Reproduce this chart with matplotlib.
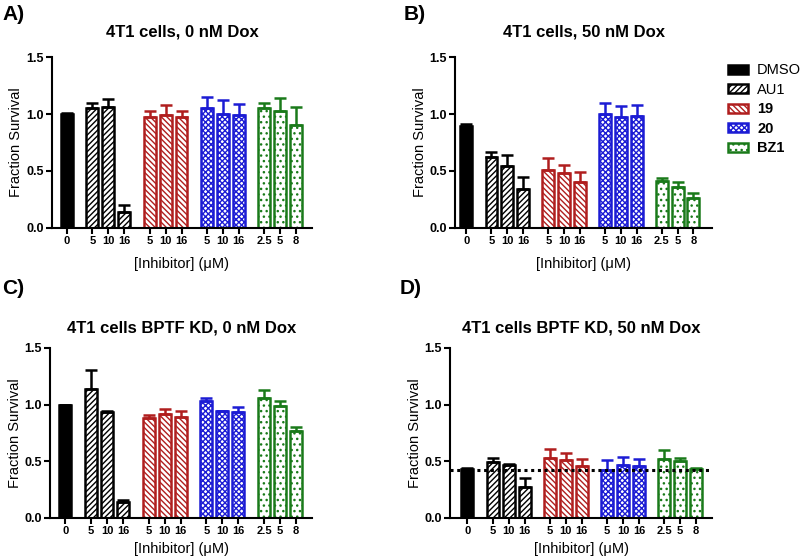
import numpy as np
import matplotlib
matplotlib.use("Agg")
import matplotlib.pyplot as plt
from matplotlib.patches import Patch

# groups and x tick labels
groups = ["DMSO", "AU1", "19", "20", "BZ1"]
tick_labels = ["0", "5", "10", "16", "5", "10", "16", "5", "10", "16", "2.5", "5", "8"]
group_of_bar = [0, 1, 1, 1, 2, 2, 2, 3, 3, 3, 4, 4, 4]

# values (mean, upper error)
a_vals = [1.00, 1.05, 1.06, 0.14, 0.97, 0.99, 0.97, 1.05, 1.00, 0.99, 1.05, 1.03, 0.90]
a_errs = [0.01, 0.05, 0.07, 0.06, 0.06, 0.09, 0.06, 0.10, 0.12, 0.10, 0.05, 0.11, 0.16]
b_vals = [0.895, 0.62, 0.54, 0.34, 0.51, 0.485, 0.40, 1.00, 0.97, 0.98, 0.41, 0.36, 0.26]
b_errs = [0.02, 0.05, 0.10, 0.11, 0.10, 0.07, 0.09, 0.10, 0.10, 0.10, 0.03, 0.04, 0.05]
c_vals = [1.00, 1.14, 0.93, 0.14, 0.88, 0.92, 0.89, 1.03, 0.94, 0.93, 1.06, 0.99, 0.77]
c_errs = [0.00, 0.16, 0.015, 0.015, 0.03, 0.04, 0.05, 0.03, 0.005, 0.05, 0.07, 0.04, 0.03]
d_vals = [0.434, 0.49, 0.466, 0.27, 0.53, 0.51, 0.46, 0.42, 0.47, 0.46, 0.52, 0.50, 0.43]
d_errs = [0.005, 0.04, 0.012, 0.08, 0.08, 0.06, 0.06, 0.09, 0.07, 0.06, 0.08, 0.03, 0.01]
d_baseline = 0.425

titles = ["4T1 cells, 0 nM Dox", "4T1 cells, 50 nM Dox",
          "4T1 cells BPTF KD, 0 nM Dox", "4T1 cells BPTF KD, 50 nM Dox"]
letters = ["A)", "B)", "C)", "D)"]

# styling per group
colors = ["black", "black", "#b01e1e", "#1c1cd4", "#1a7a1a"]
fills = ["black", "white", "white", "white", "white"]
hatches = [None, "//////", "\\\\\\\\\\\\", "xxxxxx", "..."]

# bar positions: step 1 within a group, wider gap between groups
gap = 1.6
x = []
pos = 0.0
prev = 0
for i, g in enumerate(group_of_bar):
    if i > 0:
        pos += gap if g != prev else 1.0
    x.append(pos)
    prev = g
x = np.array(x)

plt.rcParams["hatch.linewidth"] = 1.0
plt.rcParams["font.family"] = "Liberation Sans"

fig = plt.figure(figsize=(8, 5.6), dpi=100)
rects = [
    [0.065, 0.593, 0.325, 0.305],
    [0.569, 0.593, 0.321, 0.305],
    [0.063, 0.075, 0.327, 0.304],
    [0.563, 0.075, 0.327, 0.304],
]
xlims = [(-0.94, 15.4), (-0.7, 15.58), (-0.94, 15.4), (-1.07, 15.4)]
title_pads = [15, 15, 11, 11]
xlabel_pads = [8, 8, 4, 4]
data = [(a_vals, a_errs), (b_vals, b_errs), (c_vals, c_errs), (d_vals, d_errs)]

for k, (vals, errs) in enumerate(data):
    ax = fig.add_axes(rects[k])
    for i in range(len(x)):
        g = group_of_bar[i]
        ax.bar(x[i], vals[i], width=0.75, color=fills[g], edgecolor=colors[g],
               hatch=hatches[g], linewidth=1.8, zorder=2)
        ax.errorbar(x[i], vals[i], yerr=[[0], [errs[i]]], fmt="none",
                    ecolor=colors[g], elinewidth=1.8, capsize=4, capthick=1.8, zorder=3)
    if k == 3:
        ax.axhline(d_baseline, color="black", linestyle=(0, (1, 1.2)), linewidth=2.2, zorder=4)
    ax.set_xlim(*xlims[k])
    ax.set_ylim(0, 1.5)
    ax.set_yticks([0.0, 0.5, 1.0, 1.5])
    ax.set_yticklabels(["0.0", "0.5", "1.0", "1.5"], fontweight="bold", fontsize=9)
    ax.set_xticks(x)
    ax.set_xticklabels(tick_labels, fontweight="bold", fontsize=8)
    ax.spines["top"].set_visible(False)
    ax.spines["right"].set_visible(False)
    ax.spines["left"].set_linewidth(1.5)
    ax.spines["bottom"].set_linewidth(1.5)
    ax.tick_params(axis="both", width=1.5, length=4, pad=2)
    ax.set_ylabel("Fraction Survival", fontsize=10.5, labelpad=2)
    ax.set_xlabel("[Inhibitor] (\u03bcM)", fontsize=10.5, labelpad=xlabel_pads[k])
    ax.set_title(titles[k], fontweight="bold", fontsize=12, pad=title_pads[k])

fig.text(0.003, 0.975, letters[0], fontsize=15, fontweight="bold", va="center")
fig.text(0.505, 0.975, letters[1], fontsize=15, fontweight="bold", va="center")
fig.text(0.003, 0.485, letters[2], fontsize=15, fontweight="bold", va="center")
fig.text(0.500, 0.485, letters[3], fontsize=15, fontweight="bold", va="center")

handles = [Patch(facecolor=fills[g], edgecolor=colors[g], hatch=hatches[g], linewidth=1.8)
           for g in range(len(groups))]
leg = fig.legend(handles, groups, loc="upper left", bbox_to_anchor=(0.91, 0.887),
                 frameon=False, fontsize=10.5, handlelength=1.35, handleheight=0.6,
                 labelspacing=0.38, handletextpad=0.65, borderaxespad=0, borderpad=0)
for t in leg.get_texts()[2:]:
    t.set_fontweight("bold")

fig.savefig("out.png", dpi=100)
